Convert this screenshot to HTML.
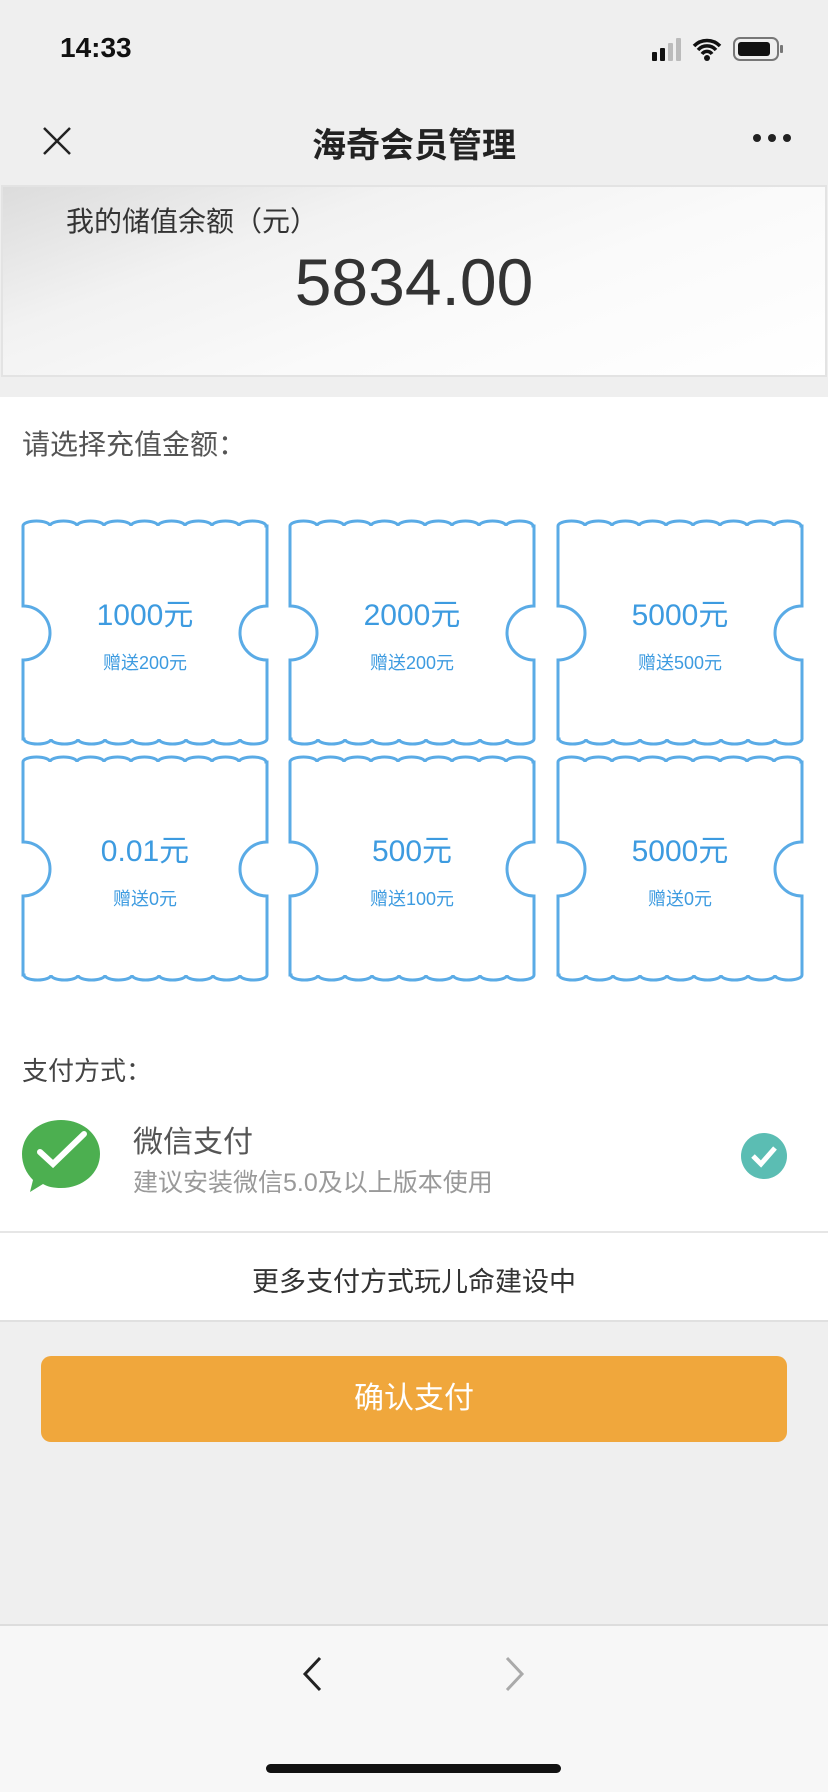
<!DOCTYPE html>
<html><head><meta charset="utf-8"><style>
*{margin:0;padding:0;box-sizing:border-box}
body{width:828px;height:1792px;background:#efefef;font-family:"Liberation Sans","Noto Sans CJK SC",sans-serif;position:relative;overflow:hidden;color:#333}
.a{position:absolute;white-space:nowrap}
.t{position:absolute;width:248px;height:233px}
.t svg{position:absolute;left:0;top:0}
.t .m{position:absolute;left:0;width:248px;text-align:center;color:#3d9be0}
.t .b{top:74px;font-size:30px}
.t .s{top:133px;font-size:18px}
</style></head><body>
<div class="a" style="left:60px;top:32px;font-size:28px;font-weight:bold;color:#111">14:33</div>
<svg class="a" style="left:650px;top:36px" width="150" height="30">
<rect x="2" y="16" width="5" height="9" rx="1" fill="#111"/><rect x="10" y="12" width="5" height="13" rx="1" fill="#111"/><rect x="18" y="7" width="5" height="18" rx="1" fill="#bbb"/><rect x="26" y="2" width="5" height="23" rx="1" fill="#bbb"/>
<path d="M44 10 a18 18 0 0 1 26 0 M48 14 a12 12 0 0 1 18 0 M52 18 a6 6 0 0 1 10 0" stroke="#111" stroke-width="3.5" fill="none"/><circle cx="57" cy="22" r="3" fill="#111"/>
<rect x="84" y="2" width="44" height="22" rx="6" fill="none" stroke="#777" stroke-width="2"/><rect x="88" y="6" width="32" height="14" rx="3" fill="#111"/><rect x="130" y="9" width="3" height="8" rx="1" fill="#777"/>
</svg>
<svg class="a" style="left:42px;top:126px" width="30" height="30"><path d="M2 2 L28 28 M28 2 L2 28" stroke="#222" stroke-width="2.5"/></svg>
<div class="a" style="left:0;width:828px;text-align:center;top:118px;font-size:34px;font-weight:bold;color:#222">海奇会员管理</div>
<svg class="a" style="left:752px;top:133px" width="40" height="10"><circle cx="5" cy="5" r="4" fill="#222"/><circle cx="20" cy="5" r="4" fill="#222"/><circle cx="35" cy="5" r="4" fill="#222"/></svg>
<div class="a" style="left:1px;top:185px;width:826px;height:192px;background:linear-gradient(160deg,#dcdcdc 0%,#f2f2f2 30%,#fafafa 60%,#fff 100%);border:2px solid #e3e3e3"></div>
<div class="a" style="left:66px;top:200px;font-size:28px;color:#333">我的储值余额（元）</div>
<div class="a" style="left:0;width:828px;text-align:center;top:244px;font-size:66px;color:#333">5834.00</div>
<div class="a" style="left:0;top:397px;width:828px;height:924px;background:#fff"></div>
<div class="a" style="left:22px;top:423px;font-size:28px;color:#555">请选择充值金额：</div>
<svg width="0" height="0" style="position:absolute"><defs><path id="tk" d="M2 10 a13.5 5 0 0 1 27 0 a13.5 5 0 0 1 27 0 a13.5 5 0 0 1 27 0 a13.5 5 0 0 1 27 0 a13.5 5 0 0 1 27 0 a13.5 5 0 0 1 27 0 a13.5 5 0 0 1 27 0 a13.5 5 0 0 1 27 0 a13.5 5 0 0 1 27 0 L246 10 L246 90 A27 27 0 0 0 246 144 L246 223 a13.5 5 0 0 1 -27 0 a13.5 5 0 0 1 -27 0 a13.5 5 0 0 1 -27 0 a13.5 5 0 0 1 -27 0 a13.5 5 0 0 1 -27 0 a13.5 5 0 0 1 -27 0 a13.5 5 0 0 1 -27 0 a13.5 5 0 0 1 -27 0 a13.5 5 0 0 1 -27 0 L2 223 L2 144 A27 27 0 0 0 2 90 Z" fill="#fff" stroke="#5aabe6" stroke-width="3"/></defs></svg>
<div class="t" style="left:21px;top:516px"><svg width="248" height="233"><use href="#tk"/></svg><div class="m b">1000元</div><div class="m s">赠送200元</div></div>
<div class="t" style="left:288px;top:516px"><svg width="248" height="233"><use href="#tk"/></svg><div class="m b">2000元</div><div class="m s">赠送200元</div></div>
<div class="t" style="left:556px;top:516px"><svg width="248" height="233"><use href="#tk"/></svg><div class="m b">5000元</div><div class="m s">赠送500元</div></div>
<div class="t" style="left:21px;top:752px"><svg width="248" height="233"><use href="#tk"/></svg><div class="m b">0.01元</div><div class="m s">赠送0元</div></div>
<div class="t" style="left:288px;top:752px"><svg width="248" height="233"><use href="#tk"/></svg><div class="m b">500元</div><div class="m s">赠送100元</div></div>
<div class="t" style="left:556px;top:752px"><svg width="248" height="233"><use href="#tk"/></svg><div class="m b">5000元</div><div class="m s">赠送0元</div></div>
<div class="a" style="left:22px;top:1051px;font-size:26px;color:#444">支付方式：</div>
<svg class="a" style="left:20px;top:1118px" width="82" height="76"><path d="M41 2 C63 2 80 17 80 36 C80 55 63 70 41 70 C34 70 28 69 23 66 L10 74 L13 62 C6 55 2 46 2 36 C2 17 19 2 41 2Z" fill="#4caf50"/><path d="M20 34 L33 46 L64 16" stroke="#fff" stroke-width="6" fill="none" stroke-linecap="round"/></svg>
<div class="a" style="left:133px;top:1117px;font-size:30px;color:#555">微信支付</div>
<div class="a" style="left:133px;top:1163px;font-size:25px;color:#999">建议安装微信5.0及以上版本使用</div>
<svg class="a" style="left:741px;top:1133px" width="46" height="46"><circle cx="23" cy="23" r="23" fill="#5bbdb3"/><path d="M12 23 L20 31 L34 15" stroke="#fff" stroke-width="5" fill="none"/></svg>
<div class="a" style="left:0;top:1231px;width:828px;height:2px;background:#e6e6e6"></div>
<div class="a" style="left:0;width:828px;text-align:center;top:1260px;font-size:27px;color:#333">更多支付方式玩儿命建设中</div>
<div class="a" style="left:0;top:1320px;width:828px;height:2px;background:#e0e0e0"></div>
<div class="a" style="left:41px;top:1356px;width:746px;height:86px;background:#f0a73c;border-radius:10px;color:#fff;font-size:30px;text-align:center;line-height:86px">确认支付</div>
<div class="a" style="left:0;top:1624px;width:828px;height:168px;background:#f7f7f7;border-top:2px solid #ddd"></div>
<svg class="a" style="left:300px;top:1655px" width="24" height="38"><path d="M20 3 L5 19 L20 35" stroke="#222" stroke-width="3" fill="none"/></svg>
<svg class="a" style="left:503px;top:1655px" width="24" height="38"><path d="M4 3 L19 19 L4 35" stroke="#aaa" stroke-width="3" fill="none"/></svg>
<div class="a" style="left:266px;top:1764px;width:295px;height:9px;border-radius:5px;background:#111"></div>
</body></html>
